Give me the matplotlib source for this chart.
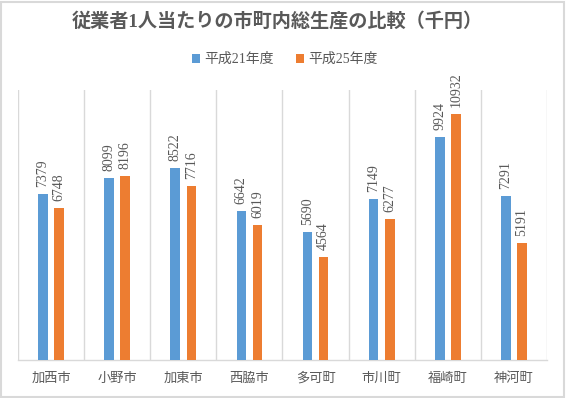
import numpy as np
import matplotlib
matplotlib.use('Agg')
import matplotlib.pyplot as plt
from matplotlib.patches import Rectangle

plt.rcParams['font.family'] = ['Liberation Serif', 'Noto Sans CJK JP']

# data (thousand yen per worker)
towns = ['加西市', '小野市', '加東市', '西脇市', '多可町', '市川町', '福崎町', '神河町']
h21 = [7379, 8099, 8522, 6642, 5690, 7149, 9924, 7291]
h25 = [6748, 8196, 7716, 6019, 4564, 6277, 10932, 5191]
series_names = ['平成21年度', '平成25年度']

blue = '#5B9BD5'
orange = '#ED7D31'
grey = '#D9D9D9'
text_col = '#595959'

fig = plt.figure(figsize=(5.66, 3.98), dpi=100)
ax = fig.add_axes([0.0318, 0.0955, 0.9346, 0.6785])

x = np.arange(len(towns))
w = 0.145
off = 0.122
b1 = ax.bar(x - off, h21, w, color=blue, label=series_names[0], zorder=3)
b2 = ax.bar(x + off, h25, w, color=orange, label=series_names[1], zorder=3)

for bars in (b1, b2):
    for rect in bars:
        v = rect.get_height()
        ax.annotate(str(int(v)), (rect.get_x() + rect.get_width() / 2, v),
                    xytext=(0, 5), textcoords='offset points',
                    rotation=90, ha='center', va='bottom',
                    fontsize=10, color=text_col)

ax.set_xlim(-0.5, len(towns) - 0.5)
ax.set_ylim(0, 12000)
ax.set_yticks([])
ax.set_xticks(x)
ax.set_xticklabels(towns, fontsize=9.5, color=text_col)
ax.tick_params(axis='x', length=0, pad=9)

# category separators as vertical gridlines
for b in np.arange(-0.5, len(towns), 1.0):
    ax.axvline(b, color=grey, linewidth=1.0, zorder=1)

for s in ('top', 'left', 'right'):
    ax.spines[s].set_visible(False)
ax.spines['bottom'].set_color(grey)
ax.spines['bottom'].set_linewidth(1.0)

fig.text(0.489, 0.946, '従業者1人当たりの市町内総生産の比較（千円）',
         ha='center', va='center', fontsize=13.8, fontweight='bold', color=text_col)

fig.legend(loc='center', bbox_to_anchor=(0.503, 0.85), ncol=2, frameon=False,
           fontsize=10, handlelength=0.6, handleheight=0.6, handletextpad=0.3,
           columnspacing=1.6, labelcolor=text_col)

# light border around the chart area
fig.patches.append(Rectangle((0.002, 0.003), 0.994, 0.993, transform=fig.transFigure,
                             fill=False, edgecolor=grey, linewidth=1.5))

fig.savefig('out.png', dpi=100)
plt.close(fig)
